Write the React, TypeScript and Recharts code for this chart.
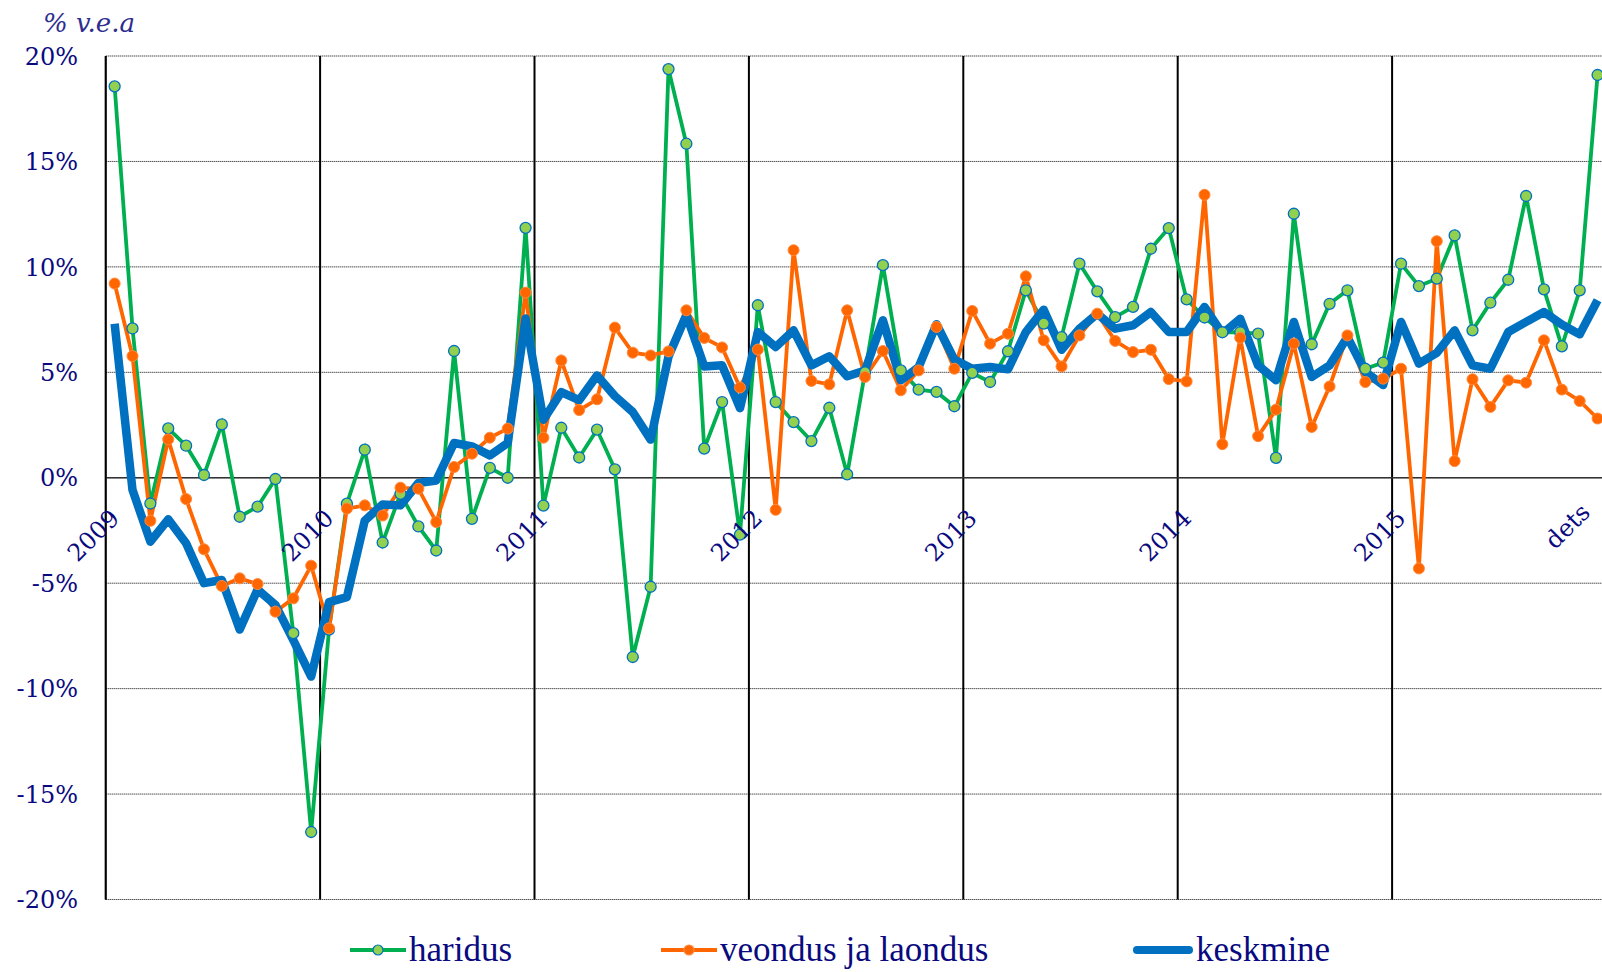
import React from 'react';
import {
  LineChart,
  Line,
  XAxis,
  YAxis,
  CartesianGrid,
  ReferenceLine,
  Legend,
} from 'recharts';

// ---------- data ----------
const YEARS = ['2009', '2010', '2011', '2012', '2013', '2014', '2015'];
const MONTH_ABBR = ['jaan', 'veebr', 'märts', 'apr', 'mai', 'juuni', 'juuli', 'aug', 'sept', 'okt', 'nov', 'dets'];
const CATEGORIES = YEARS.flatMap((y) => MONTH_ABBR.map((m) => `${m} ${y.slice(2)}`));

const HARIDUS = [
  18.56, 7.08, -1.22, 2.34, 1.52, 0.13, 2.53, -1.85, -1.37, -0.06, -7.37, -16.8,
  -7.2, -1.23, 1.33, -3.07, -0.76, -2.31, -3.45, 6.01, -1.95, 0.47, 0.0, 11.85,
  -1.32, 2.37, 0.96, 2.28, 0.4, -8.5, -5.17, 19.38, 15.84, 1.38, 3.59, -2.7,
  8.18, 3.59, 2.64, 1.74, 3.32, 0.16, 5.0, 10.08, 5.09, 4.18, 4.07, 3.39,
  4.97, 4.54, 6.0, 8.89, 7.31, 6.67, 10.15, 8.84, 7.62, 8.1, 10.86, 11.84,
  8.46, 7.6, 6.9, 6.9, 6.83, 0.94, 12.52, 6.33, 8.25, 8.89, 5.17, 5.46,
  10.15, 9.09, 9.44, 11.49, 6.99, 8.3, 9.39, 13.36, 8.93, 6.23, 8.89, 19.1,
];

const VEONDUS = [
  9.21, 5.77, -2.04, 1.82, -1.01, -3.39, -5.13, -4.77, -5.04, -6.35, -5.72, -4.17,
  -7.14, -1.46, -1.31, -1.79, -0.47, -0.52, -2.1, 0.51, 1.14, 1.9, 2.33, 8.78,
  1.9, 5.56, 3.21, 3.72, 7.12, 5.93, 5.8, 5.99, 7.94, 6.63, 6.18, 4.28,
  6.08, -1.52, 10.79, 4.59, 4.43, 7.94, 4.78, 6.01, 4.15, 5.09, 7.15, 5.17,
  7.91, 6.36, 6.83, 9.55, 6.52, 5.28, 6.75, 7.78, 6.49, 5.96, 6.07, 4.68,
  4.57, 13.42, 1.59, 6.64, 1.97, 3.23, 6.36, 2.41, 4.33, 6.75, 4.54, 4.7,
  5.17, -4.3, 11.22, 0.79, 4.67, 3.36, 4.62, 4.51, 6.52, 4.18, 3.64, 2.81,
];

const KESKMINE = [
  7.3, -0.58, -3.03, -1.97, -3.11, -5.0, -4.85, -7.2, -5.3, -6.03, -7.7, -9.43,
  -5.9, -5.66, -2.03, -1.27, -1.31, -0.25, -0.13, 1.65, 1.49, 1.06, 1.65, 7.55,
  2.75, 4.06, 3.68, 4.85, 3.87, 3.12, 1.81, 5.75, 7.72, 5.28, 5.33, 3.3,
  6.91, 6.2, 6.99, 5.33, 5.76, 4.81, 5.09, 7.47, 4.62, 5.25, 7.28, 5.6,
  5.17, 5.25, 5.14, 6.91, 7.97, 6.07, 7.07, 7.78, 7.07, 7.23, 7.86, 6.91,
  6.91, 8.1, 6.83, 7.54, 5.33, 4.62, 7.39, 4.78, 5.33, 6.67, 5.02, 4.4,
  7.39, 5.41, 5.92, 6.99, 5.33, 5.17, 6.91, 7.39, 7.86, 7.27, 6.8, 8.42,
];

const X_TICKS = [0, 12, 24, 36, 48, 60, 72, 84];
const X_TICK_LABELS = ['2009', '2010', '2011', '2012', '2013', '2014', '2015', 'dets'];
const Y_TICKS = [-20, -15, -10, -5, 0, 5, 10, 15, 20];

const SERIES_NAMES = ['haridus', 'veondus ja laondus', 'keskmine'];

const DATA = CATEGORIES.map((month, i) => ({
  month,
  pos: i + 0.5,
  haridus: HARIDUS[i],
  veondus: VEONDUS[i],
  keskmine: KESKMINE[i],
}));

// ---------- layout ----------
const CHART_W = 1620;
const CHART_H = 964;
const PLOT_LEFT = 97.7;
const PLOT_TOP = 48;
const PLOT_RIGHT = 1598.5;
const PLOT_BOTTOM = 891.5;
const ZERO_Y = PLOT_TOP + (PLOT_BOTTOM - PLOT_TOP) / 2;
const NAVY = '#0a0a80';
const GREEN = '#00B050';
const LIGHT_GREEN = '#92D050';
const ORANGE = '#FF6600';
const BLUE = '#0070C0';

const XTick = (props: any) => {
  const { x, payload } = props;
  const idx = X_TICKS.indexOf(payload.value);
  const label = X_TICK_LABELS[idx] ?? '';
  const last = idx === X_TICKS.length - 1;
  const ax = x + 15 + (last ? -30 : 0);
  const ay = ZERO_Y + 42 + (last ? -6 : 0);
  return (
    <text
      x={ax}
      y={ay}
      transform={`rotate(-45 ${ax} ${ay})`}
      textAnchor="end"
      fill={NAVY}
      fontFamily="'DejaVu Serif', serif"
      fontSize={24}
    >
      {label}
    </text>
  );
};

const YTick = (props: any) => {
  const { y, payload } = props;
  return (
    <text
      x={70}
      y={y}
      dy="0.36em"
      textAnchor="end"
      fill={NAVY}
      fontFamily="'DejaVu Serif', serif"
      fontSize={24}
    >
      {`${payload.value}%`}
    </text>
  );
};

const LegendIcon = ({ kind }: { kind: number }) => {
  if (kind === 2) {
    return (
      <svg width={60} height={20} style={{ display: 'block' }}>
        <line x1={4} y1={10} x2={56} y2={10} stroke={BLUE} strokeWidth={8} strokeLinecap="round" />
      </svg>
    );
  }
  const color = kind === 0 ? GREEN : ORANGE;
  return (
    <svg width={56} height={20} style={{ display: 'block' }}>
      <line x1={0} y1={10} x2={56} y2={10} stroke={color} strokeWidth={3.8} />
      <circle
        cx={28}
        cy={10}
        r={5}
        fill={kind === 0 ? LIGHT_GREEN : ORANGE}
        stroke={kind === 0 ? BLUE : '#FF8A3D'}
        strokeWidth={1.2}
      />
    </svg>
  );
};

const ITEM_WIDTHS = [311, 472, 300];

const renderLegend = () => (
  <div style={{ display: 'flex', alignItems: 'center' }}>
    {SERIES_NAMES.map((name, i) => (
      <div
        key={name}
        style={{ display: 'flex', alignItems: 'center', width: ITEM_WIDTHS[i], flex: 'none' }}
      >
        <LegendIcon kind={i} />
        <span
          style={{
            fontFamily: "'Liberation Serif', serif",
            fontSize: 35,
            lineHeight: 1,
            color: NAVY,
            marginLeft: 3,
            whiteSpace: 'nowrap',
          }}
        >
          {name}
        </span>
      </div>
    ))}
  </div>
);

export default function App() {
  return (
    <div
      style={{
        position: 'fixed',
        left: 8,
        top: 8,
        width: 1594,
        height: 964,
        overflow: 'hidden',
        background: '#fff',
      }}
    >
      <LineChart
        width={CHART_W}
        height={CHART_H}
        data={DATA}
        margin={{ top: PLOT_TOP, right: CHART_W - PLOT_RIGHT, left: 0, bottom: CHART_H - PLOT_BOTTOM - 1 }}
      >
        <CartesianGrid vertical={false} stroke="#000" strokeDasharray="1 1" strokeWidth={1} />
        <CartesianGrid horizontal={false} stroke="#000" strokeWidth={2} />
        <XAxis
          dataKey="pos"
          type="number"
          domain={[0, 84]}
          ticks={X_TICKS}
          interval={0}
          allowDataOverflow
          axisLine={false}
          tickLine={false}
          height={1}
          tick={XTick}
        />
        <YAxis
          type="number"
          domain={[-20, 20]}
          ticks={Y_TICKS}
          interval={0}
          width={PLOT_LEFT}
          axisLine={{ stroke: '#000', strokeWidth: 1.5 }}
          tickLine={false}
          tick={YTick}
        />
        <ReferenceLine y={0} stroke="#333" strokeWidth={1.6} />
        <Line
          name={SERIES_NAMES[0]}
          dataKey="haridus"
          stroke={GREEN}
          strokeWidth={3.8}
          dot={{ r: 5.5, fill: LIGHT_GREEN, stroke: BLUE, strokeWidth: 1.3 }}
          activeDot={false}
          isAnimationActive={false}
        />
        <Line
          name={SERIES_NAMES[1]}
          dataKey="veondus"
          stroke={ORANGE}
          strokeWidth={3.8}
          dot={{ r: 5.5, fill: ORANGE, stroke: '#FF8A3D', strokeWidth: 1 }}
          activeDot={false}
          isAnimationActive={false}
        />
        <Line
          name={SERIES_NAMES[2]}
          dataKey="keskmine"
          stroke={BLUE}
          strokeWidth={8.5}
          strokeLinejoin="round"
          dot={false}
          activeDot={false}
          isAnimationActive={false}
        />
        <Legend
          layout="horizontal"
          verticalAlign="middle"
          align="center"
          content={renderLegend}
          wrapperStyle={{ left: 342, top: 924, width: 1250, height: 36 }}
        />
      </LineChart>
      <svg
        width={200}
        height={40}
        style={{ position: 'absolute', left: 0, top: 0, pointerEvents: 'none' }}
      >
        <text
          x={35}
          y={24}
          fill="#2e2e8f"
          fontFamily="'DejaVu Serif', serif"
          fontStyle="italic"
          fontSize={26}
        >
          % v.e.a
        </text>
      </svg>
    </div>
  );
}
